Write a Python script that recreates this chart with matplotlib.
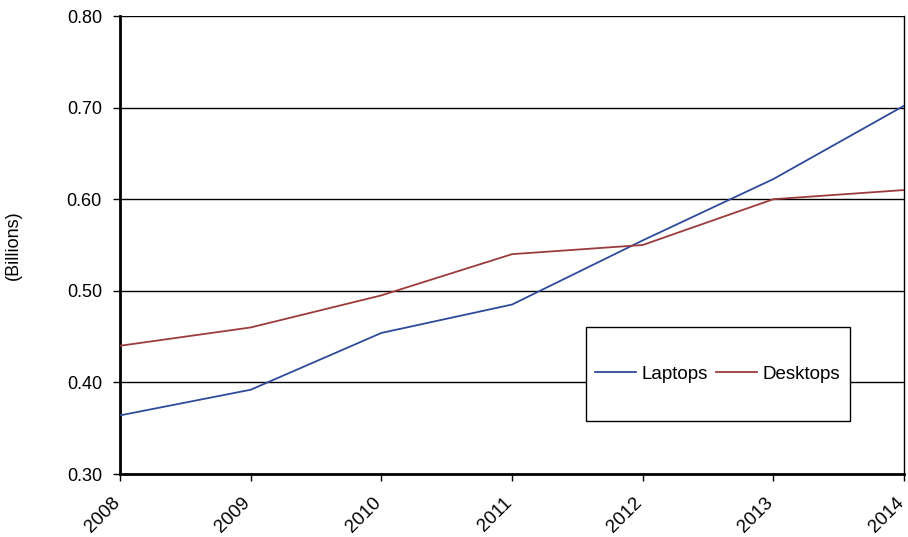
import matplotlib.pyplot as plt
from matplotlib.patches import Rectangle
from matplotlib.transforms import ScaledTranslation

plt.rcParams['font.family'] = ['Liberation Sans', 'DejaVu Sans']

years = ["2008", "2009", "2010", "2011", "2012", "2013", "2014"]
laptops = [0.364, 0.392, 0.454, 0.485, 0.555, 0.622, 0.702]
desktops = [0.440, 0.460, 0.495, 0.540, 0.550, 0.600, 0.610]

fig = plt.figure(figsize=(9.08, 5.37), dpi=100)
ax = fig.add_axes([0.1322, 0.1173, 0.8634, 0.8529])

x = range(len(years))
ax.plot(x, laptops, color='#2e4a9a', lw=1.3, label='Laptops', zorder=4)
ax.plot(x, desktops, color='#9c3b3b', lw=1.3, label='Desktops', zorder=4)

ax.set_xlim(0, len(years) - 1)
ax.set_ylim(0.30, 0.80)
ax.set_yticks([0.30, 0.40, 0.50, 0.60, 0.70, 0.80])
ax.set_yticklabels([f"{v:.2f}" for v in ax.get_yticks()], fontsize=13)
ax.set_xticks(list(x))
ax.set_xticklabels(years, rotation=45, ha='right', va='center',
                   rotation_mode='anchor', fontsize=13.5)
ax.tick_params(axis='both', length=5, width=1, color='black')
ax.tick_params(axis='x', pad=14)
ax.tick_params(axis='y', pad=8)
shift = ScaledTranslation(-3 / 100, 0, fig.dpi_scale_trans)
for lbl in ax.get_xticklabels():
    lbl.set_transform(lbl.get_transform() + shift)

ax.grid(axis='y', color='black', lw=1)
ax.set_axisbelow(True)
for side in ['left', 'bottom']:
    ax.spines[side].set_linewidth(2)
ax.spines['top'].set_visible(False)
ax.spines['right'].set_linewidth(1)

ax.set_ylabel("(Billions)", fontsize=13)
ax.yaxis.set_label_coords(-0.125, 0.5)

# boxed legend sitting over the lower right gridlines
box = Rectangle((0.594, 0.1157), 0.3367, 0.205, transform=ax.transAxes,
                facecolor='white', edgecolor='black', lw=1, zorder=3)
ax.add_patch(box)
leg = ax.legend(loc='center', bbox_to_anchor=(0.594 + 0.3367 / 2, 0.1157 + 0.205 / 2),
                ncol=2, frameon=False, fontsize=13.5,
                handlelength=2.2, handletextpad=0.3, columnspacing=0.4,
                borderaxespad=0, borderpad=0)
leg.set_zorder(5)

fig.savefig("out.png", dpi=100)
